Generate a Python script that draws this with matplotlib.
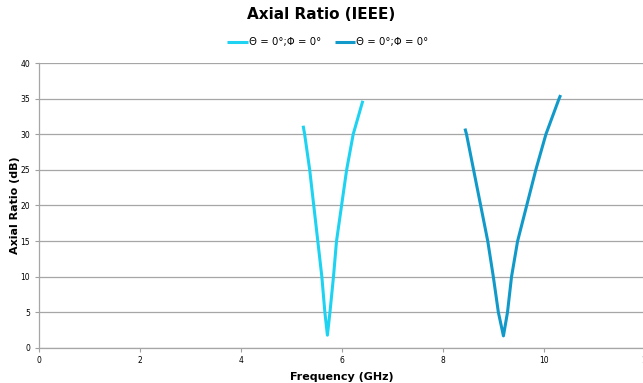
import matplotlib.pyplot as plt

# Axial ratio sweeps, two resonance bands
freq_a = [5.23, 5.26, 5.36, 5.44, 5.52, 5.60, 5.66, 5.71,
          5.76, 5.83, 5.89, 5.99, 6.09, 6.22, 6.41]
ar_a = [31.2, 30.0, 25.0, 20.0, 15.0, 10.0, 5.0, 1.8,
        5.0, 10.0, 15.0, 20.0, 25.0, 30.0, 34.7]

freq_b = [8.43, 8.46, 8.60, 8.74, 8.88, 8.99, 9.09, 9.19,
          9.27, 9.35, 9.47, 9.65, 9.83, 10.03, 10.29, 10.32]
ar_b = [30.8, 30.0, 25.0, 20.0, 15.0, 10.0, 5.0, 1.7,
        5.0, 10.0, 15.0, 20.0, 25.0, 30.0, 35.0, 35.5]

label_a = "Θ = 0°;Φ = 0°"
label_b = "Θ = 0°;Φ = 0°"

x_ticks = [0, 2, 4, 6, 8, 10, 12]
y_ticks = [0, 5, 10, 15, 20, 25, 30, 35, 40]

fig = plt.figure(figsize=(6.43, 3.83), dpi=100)
ax = fig.add_axes([0.060, 0.0914, 0.944, 0.7441])

ax.plot(freq_a, ar_a, color="#1ED3F2", linewidth=2.2, label=label_a,
        solid_joinstyle="round", solid_capstyle="butt")
ax.plot(freq_b, ar_b, color="#119AC9", linewidth=2.2, label=label_b,
        solid_joinstyle="round", solid_capstyle="butt")

ax.set_xlim(0, 12)
ax.set_ylim(0, 40)
ax.set_xticks(x_ticks)
ax.set_yticks(y_ticks)
ax.tick_params(axis="both", labelsize=5.5, length=3, color="#A0A0A0", pad=3)
ax.grid(axis="y", color="#A6A6A6", linewidth=0.9)
ax.set_axisbelow(True)
for s in ["top", "right"]:
    ax.spines[s].set_visible(False)
for s in ["left", "bottom"]:
    ax.spines[s].set_color("#A6A6A6")
    ax.spines[s].set_linewidth(0.9)

ax.set_xlabel("Frequency (GHz)", fontsize=8, fontweight="bold", labelpad=5)
ax.set_ylabel("Axial Ratio (dB)", fontsize=8, fontweight="bold", labelpad=0)

fig.text(0.5, 0.962, "Axial Ratio (IEEE)", ha="center", va="center", fontsize=11, fontweight="bold")
fig.legend(loc="center", bbox_to_anchor=(0.51, 0.89), ncol=2, frameon=False, fontsize=7.3,
           handlelength=2.0, handletextpad=0.1, columnspacing=1.4)

fig.savefig("out.png", dpi=100)
